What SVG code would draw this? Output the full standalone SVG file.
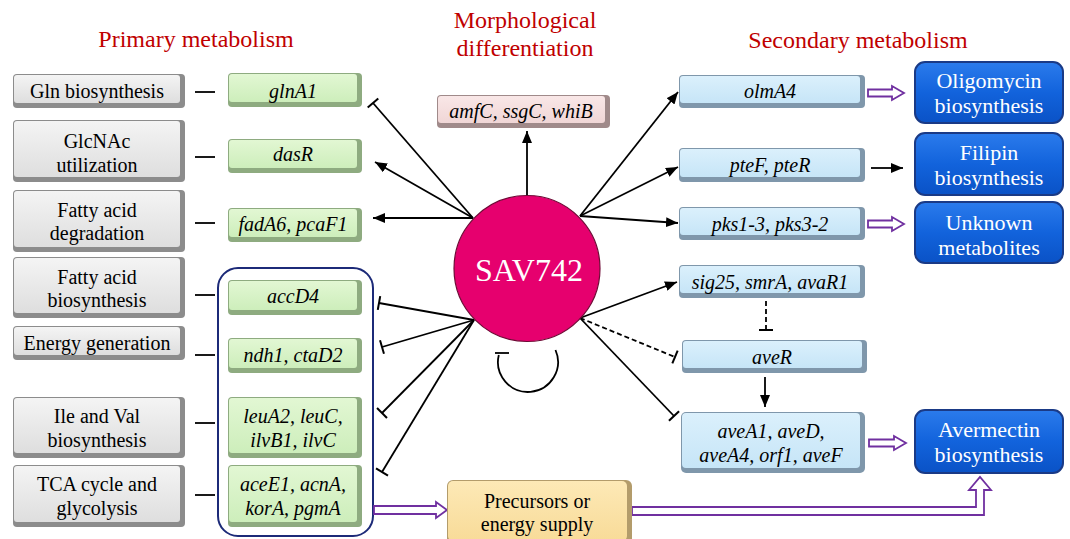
<svg xmlns="http://www.w3.org/2000/svg" width="1070" height="539" viewBox="0 0 1070 539">
<style>
.t{font-family:"Liberation Serif","Times New Roman",serif;font-size:20px;text-anchor:middle;fill:#000}
.i{font-style:italic}
.title{fill:#c00000;font-size:24px}
.w{fill:#fff;font-size:22px}
.big{fill:#fff;font-size:32px}
.ln{stroke:#000;stroke-width:1.8;fill:none}
.dash{stroke-dasharray:5 3}
.hol{fill:#fff;stroke:#7030a0;stroke-width:1.8;stroke-linejoin:miter}
.dk{fill:url(#gDark);stroke:#1a3a86;stroke-width:2}
</style>
<defs>
<linearGradient id="gGrey" x1="0" y1="0" x2="0" y2="1"><stop offset="0" stop-color="#f4f4f4"/><stop offset="1" stop-color="#dedede"/></linearGradient>
<linearGradient id="gGreen" x1="0" y1="0" x2="0" y2="1"><stop offset="0" stop-color="#e2f7d3"/><stop offset="1" stop-color="#cdeebb"/></linearGradient>
<linearGradient id="gPink" x1="0" y1="0" x2="0" y2="1"><stop offset="0" stop-color="#f9e7e7"/><stop offset="1" stop-color="#f0d6d6"/></linearGradient>
<linearGradient id="gBlue" x1="0" y1="0" x2="0" y2="1"><stop offset="0" stop-color="#dbf0fc"/><stop offset="1" stop-color="#c6e5f7"/></linearGradient>
<linearGradient id="gTan" x1="0" y1="0" x2="0" y2="1"><stop offset="0" stop-color="#fde9b6"/><stop offset="1" stop-color="#f8db98"/></linearGradient>
<linearGradient id="gDark" x1="0" y1="0" x2="0" y2="1"><stop offset="0" stop-color="#2b7bec"/><stop offset="0.5" stop-color="#1263dc"/><stop offset="1" stop-color="#0a52c6"/></linearGradient>
<marker id="arr" viewBox="0 0 12 10" refX="12" refY="5" markerWidth="12" markerHeight="10" markerUnits="userSpaceOnUse" orient="auto"><path d="M0,0 L12,5 L0,10 z" fill="#000"/></marker>
<marker id="tee" viewBox="-2 -8 4 16" refX="0" refY="0" markerWidth="4" markerHeight="16" markerUnits="userSpaceOnUse" orient="auto"><path d="M0,-7 L0,7" stroke="#000" stroke-width="2"/></marker>
</defs>
<rect width="1070" height="539" fill="#fff"/>

<g id="titles">
<text class="t title" x="196" y="47">Primary metabolism</text>
<text class="t title" x="525" y="28">Morphological</text>
<text class="t title" x="525" y="56">differentiation</text>
<text class="t title" x="858" y="48">Secondary metabolism</text>
</g>

<g id="container"><rect x="218" y="268" width="155" height="268" rx="20" fill="none" stroke="#1c2a78" stroke-width="2"/></g>

<g id="connectors">
<line class="ln" x1="195" y1="92" x2="215" y2="92"/>
<line class="ln" x1="195" y1="157" x2="215" y2="157"/>
<line class="ln" x1="195" y1="223" x2="215" y2="223"/>
<line class="ln" x1="195" y1="295" x2="215" y2="295"/>
<line class="ln" x1="195" y1="355" x2="215" y2="355"/>
<line class="ln" x1="195" y1="423" x2="215" y2="423"/>
<line class="ln" x1="195" y1="495" x2="215" y2="495"/>
<line class="ln" x1="473" y1="218" x2="373" y2="103" marker-end="url(#tee)"/>
<line class="ln" x1="473" y1="218" x2="375" y2="162" marker-end="url(#arr)"/>
<line class="ln" x1="473" y1="218" x2="373" y2="218" marker-end="url(#arr)"/>
<line class="ln" x1="527" y1="195" x2="527" y2="131" marker-end="url(#arr)"/>
<line class="ln" x1="580" y1="216" x2="678" y2="92" marker-end="url(#arr)"/>
<line class="ln" x1="580" y1="216" x2="678" y2="167" marker-end="url(#arr)"/>
<line class="ln" x1="580" y1="216" x2="678" y2="223" marker-end="url(#arr)"/>
<line class="ln" x1="474" y1="320" x2="379" y2="303" marker-end="url(#tee)"/>
<line class="ln" x1="474" y1="320" x2="382" y2="347" marker-end="url(#tee)"/>
<line class="ln" x1="474" y1="320" x2="382" y2="413" marker-end="url(#tee)"/>
<line class="ln" x1="474" y1="320" x2="382" y2="472" marker-end="url(#tee)"/>
<line class="ln" x1="580" y1="318" x2="677" y2="282" marker-end="url(#arr)"/>
<line class="ln dash" x1="580" y1="318" x2="675" y2="357" marker-end="url(#tee)"/>
<line class="ln" x1="580" y1="318" x2="674" y2="416" marker-end="url(#tee)"/>
<line class="ln dash" x1="766" y1="301" x2="766" y2="330" marker-end="url(#tee)"/>
<line class="ln" x1="765" y1="377" x2="765" y2="407" marker-end="url(#arr)"/>
<line class="ln" x1="871" y1="168" x2="903" y2="168" marker-end="url(#arr)"/>
<path class="ln" d="M555.5,350 A30,30 0 1 1 498.8,355"/>
<line class="ln" x1="495" y1="353" x2="509" y2="353"/>
<polygon class="hol" points="868,89.5 892,89.5 892,86 904,93 892,100 892,96.5 868,96.5"/>
<polygon class="hol" points="868,220.5 892,220.5 892,217 904,224 892,231 892,227.5 868,227.5"/>
<polygon class="hol" points="869,439.5 894,439.5 894,436 906,443 894,450 894,446.5 869,446.5"/>
<polygon class="hol" points="374,506 436,506 436,502 447,510 436,518 436,514 374,514"/>
<polygon class="hol" points="632,507 976,507 976,490 969,490 980,477 991,490 984,490 984,515 632,515"/>
</g>

<g id="n-gln"><rect x="13" y="74" width="172" height="34" rx="4" fill="#8c8c8c"/><rect x="14" y="75" width="166" height="28" rx="3" fill="url(#gGrey)"/><text class="t" x="97" y="98">Gln biosynthesis</text></g>
<g id="n-glcnac"><rect x="13" y="120" width="172" height="62" rx="4" fill="#8c8c8c"/><rect x="14" y="121" width="166" height="56" rx="3" fill="url(#gGrey)"/><text class="t" x="97" y="148">GlcNAc</text><text class="t" x="97" y="172">utilization</text></g>
<g id="n-fad"><rect x="13" y="190" width="172" height="62" rx="4" fill="#8c8c8c"/><rect x="14" y="191" width="166" height="56" rx="3" fill="url(#gGrey)"/><text class="t" x="97" y="217">Fatty acid</text><text class="t" x="97" y="240">degradation</text></g>
<g id="n-fab"><rect x="13" y="257" width="172" height="61" rx="4" fill="#8c8c8c"/><rect x="14" y="258" width="166" height="55" rx="3" fill="url(#gGrey)"/><text class="t" x="97" y="284">Fatty acid</text><text class="t" x="97" y="307">biosynthesis</text></g>
<g id="n-energy"><rect x="13" y="326" width="172" height="34" rx="4" fill="#8c8c8c"/><rect x="14" y="327" width="166" height="28" rx="3" fill="url(#gGrey)"/><text class="t" x="97" y="350">Energy generation</text></g>
<g id="n-ile"><rect x="13" y="397" width="172" height="61" rx="4" fill="#8c8c8c"/><rect x="14" y="398" width="166" height="55" rx="3" fill="url(#gGrey)"/><text class="t" x="97" y="423">Ile and Val</text><text class="t" x="97" y="447">biosynthesis</text></g>
<g id="n-tca"><rect x="13" y="465" width="172" height="62" rx="4" fill="#8c8c8c"/><rect x="14" y="466" width="166" height="56" rx="3" fill="url(#gGrey)"/><text class="t" x="97" y="491">TCA cycle and</text><text class="t" x="97" y="515">glycolysis</text></g>

<g id="n-glnA1"><rect x="228" y="73" width="134" height="34" rx="4" fill="#8eab80"/><rect x="229" y="74" width="128" height="28" rx="3" fill="url(#gGreen)"/><text class="t i" x="293" y="98">glnA1</text></g>
<g id="n-dasR"><rect x="228" y="139" width="134" height="34" rx="4" fill="#8eab80"/><rect x="229" y="140" width="128" height="28" rx="3" fill="url(#gGreen)"/><text class="t i" x="293" y="161">dasR</text></g>
<g id="n-fadA6"><rect x="228" y="208" width="134" height="34" rx="4" fill="#8eab80"/><rect x="229" y="209" width="128" height="28" rx="3" fill="url(#gGreen)"/><text class="t i" x="293" y="231">fadA6, pcaF1</text></g>
<g id="n-accD4"><rect x="228" y="280" width="134" height="35" rx="4" fill="#8eab80"/><rect x="229" y="281" width="128" height="29" rx="3" fill="url(#gGreen)"/><text class="t i" x="293" y="303">accD4</text></g>
<g id="n-ndh1"><rect x="228" y="338" width="134" height="35" rx="4" fill="#8eab80"/><rect x="229" y="339" width="128" height="29" rx="3" fill="url(#gGreen)"/><text class="t i" x="293" y="362">ndh1, ctaD2</text></g>
<g id="n-leuA2"><rect x="228" y="397" width="134" height="61" rx="4" fill="#8eab80"/><rect x="229" y="398" width="128" height="55" rx="3" fill="url(#gGreen)"/><text class="t i" x="293" y="423">leuA2, leuC,</text><text class="t i" x="293" y="447">ilvB1, ilvC</text></g>
<g id="n-aceE1"><rect x="228" y="465" width="134" height="62" rx="4" fill="#8eab80"/><rect x="229" y="466" width="128" height="56" rx="3" fill="url(#gGreen)"/><text class="t i" x="293" y="491">aceE1, acnA,</text><text class="t i" x="293" y="515">korA, pgmA</text></g>

<g id="n-amfC"><rect x="437" y="95" width="173" height="33" rx="4" fill="#a08a8a"/><rect x="438" y="96" width="167" height="27" rx="3" fill="url(#gPink)"/><text class="t i" x="521" y="118">amfC, ssgC, whiB</text></g>

<g id="n-sav742"><circle cx="527" cy="268.5" r="73" fill="#e6006e" stroke="#6e0a35" stroke-width="1.2"/><text class="t big" x="529" y="281">SAV742</text></g>

<g id="n-olmA4"><rect x="679" y="75" width="186" height="33" rx="4" fill="#7f97ab"/><rect x="680" y="76" width="180" height="27" rx="3" fill="url(#gBlue)"/><text class="t i" x="770" y="98">olmA4</text></g>
<g id="n-pteF"><rect x="679" y="148" width="186" height="34" rx="4" fill="#7f97ab"/><rect x="680" y="149" width="180" height="28" rx="3" fill="url(#gBlue)"/><text class="t i" x="770" y="172">pteF, pteR</text></g>
<g id="n-pks"><rect x="679" y="207" width="186" height="33" rx="4" fill="#7f97ab"/><rect x="680" y="208" width="180" height="27" rx="3" fill="url(#gBlue)"/><text class="t i" x="770" y="231">pks1-3, pks3-2</text></g>
<g id="n-sig25"><rect x="679" y="265" width="186" height="33" rx="4" fill="#7f97ab"/><rect x="680" y="266" width="180" height="27" rx="3" fill="url(#gBlue)"/><text class="t i" x="770" y="289">sig25, smrA, avaR1</text></g>
<g id="n-aveR"><rect x="682" y="340" width="185" height="33" rx="4" fill="#7f97ab"/><rect x="683" y="341" width="179" height="27" rx="3" fill="url(#gBlue)"/><text class="t i" x="772" y="364">aveR</text></g>
<g id="n-aveA1"><rect x="681" y="412" width="184" height="61" rx="5" fill="#7f97ab"/><rect x="682" y="413" width="178" height="55" rx="4" fill="url(#gBlue)"/><text class="t i" x="771" y="438">aveA1, aveD,</text><text class="t i" x="771" y="462">aveA4, orf1, aveF</text></g>

<g id="n-oligomycin"><rect class="dk" x="915" y="62" width="148" height="61" rx="10"/><text class="t w" x="989" y="88">Oligomycin</text><text class="t w" x="989" y="113">biosynthesis</text></g>
<g id="n-filipin"><rect class="dk" x="915" y="133" width="148" height="62" rx="10"/><text class="t w" x="989" y="160">Filipin</text><text class="t w" x="989" y="185">biosynthesis</text></g>
<g id="n-unknown"><rect class="dk" x="915" y="202" width="148" height="61" rx="10"/><text class="t w" x="989" y="230">Unknown</text><text class="t w" x="989" y="255">metabolites</text></g>
<g id="n-avermectin"><rect class="dk" x="915" y="410" width="148" height="63" rx="10"/><text class="t w" x="989" y="437">Avermectin</text><text class="t w" x="989" y="462">biosynthesis</text></g>

<g id="n-precursors"><rect x="447" y="480" width="185" height="64" rx="6" fill="#b39c6b"/><rect x="448" y="481" width="179" height="60" rx="5" fill="url(#gTan)"/><text class="t" x="537" y="508">Precursors or</text><text class="t" x="537" y="531">energy supply</text></g>
</svg>
